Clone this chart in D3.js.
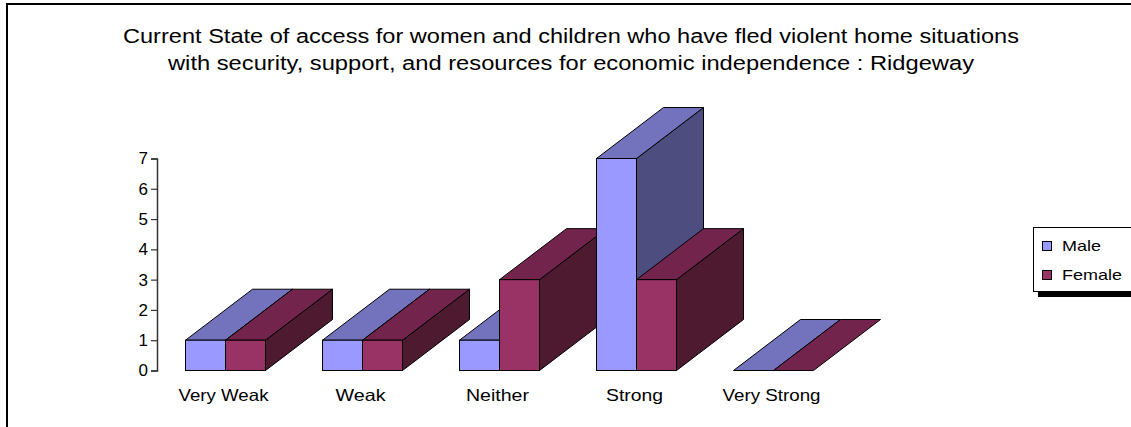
<!DOCTYPE html>
<html><head><meta charset="utf-8">
<script src="https://cdn.jsdelivr.net/npm/d3@7"></script>
<style>body{margin:0;background:#fff}svg{display:block;font-family:Arial,"Liberation Sans",sans-serif}</style>
</head><body>
<script>
const categories = ["Very Weak","Weak","Neither","Strong","Very Strong"];
const seriesNames = ["Male","Female"];
const maleValues = [1,1,1,7,0];
const femaleValues = [1,1,3,3,0];
const yTicks = [0,1,2,3,4,5,6,7];
const titleLines = ["Current State of access for women and children who have fled violent home situations",
  "with security, support, and resources for economic independence : Ridgeway"];

const colors = {
  Male:   {front:"#9999FF", top:"#7373BD", side:"#4D4D80"},
  Female: {front:"#993366", top:"#73244C", side:"#4D1A30"}
};

const W=1131,H=427;
const svg=d3.select("body").append("svg").attr("width",W).attr("height",H);

// frame (right and bottom edges lie outside the picture)
svg.append("rect").attr("x",7).attr("y",4).attr("width",1140).attr("height",440)
  .attr("fill","#fff").attr("stroke","#000").attr("stroke-width",2);

// title
const titleWidths=[896,806];
svg.append("g").selectAll("text").data(titleLines).join("text")
  .attr("x",(d,i)=>571-titleWidths[i]/2).attr("y",(d,i)=>43+i*27)
  .attr("textLength",(d,i)=>titleWidths[i]).attr("lengthAdjust","spacingAndGlyphs")
  .attr("font-size",20).attr("fill","#000").text(d=>d);

const x=d3.scaleBand().domain(categories).range([157,842]);
const xs=d3.scaleBand().domain(seriesNames).range([0,80]);
const y=d3.scaleLinear().domain([0,7]).range([370.5,158.5]);
const DX=67, DY=-51;
const barW=xs.bandwidth();

const data=[];
categories.forEach((c,i)=>{
  data.push({cat:c,s:"Male",v:maleValues[i]});
  data.push({cat:c,s:"Female",v:femaleValues[i]});
});

const g=svg.append("g");
data.forEach(d=>{
  const x0=x(d.cat)+x.bandwidth()/2-40+xs(d.s);
  const x1=x0+barW;
  const yt=y(d.v), yb=y(0);
  const c=colors[d.s];
  const top=[[x0,yt],[x1,yt],[x1+DX,yt+DY],[x0+DX,yt+DY]];
  const side=[[x1,yt],[x1+DX,yt+DY],[x1+DX,yb+DY],[x1,yb]];
  if(d.v>0){
    g.append("polygon").attr("points",side.join(" ")).attr("fill",c.side).attr("stroke","#000").attr("stroke-width",1);
  }
  g.append("polygon").attr("points",top.join(" ")).attr("fill",c.top).attr("stroke","#000").attr("stroke-width",1);
  if(d.v>0){
    g.append("rect").attr("x",x0).attr("y",yt).attr("width",barW).attr("height",yb-yt)
      .attr("fill",c.front).attr("stroke","#000").attr("stroke-width",1);
  }
});

// y axis
const ax=svg.append("g").attr("transform","translate(157,0)")
  .call(d3.axisLeft(y).tickValues(yTicks).tickSize(6).tickPadding(3).tickFormat(d3.format("d")));
ax.select(".domain").attr("stroke","#333").attr("stroke-width",1.5);
ax.selectAll(".tick line").attr("stroke","#333").attr("stroke-width",1.2);
ax.selectAll("text").attr("font-size",17).attr("fill","#000").attr("font-family","Arial,'Liberation Sans',sans-serif");

// category labels
const catWidths=[90,50,63,57,98];
svg.append("g").selectAll("text").data(categories).join("text")
  .attr("x",(d,i)=>x(d)+x.bandwidth()/2-2-catWidths[i]/2).attr("y",401)
  .attr("textLength",(d,i)=>catWidths[i]).attr("lengthAdjust","spacingAndGlyphs")
  .attr("font-size",16.5).attr("fill","#000").text(d=>d);

// legend
const lg=svg.append("g");
lg.append("rect").attr("x",1038).attr("y",240).attr("width",100).attr("height",57).attr("fill","#000");
lg.append("rect").attr("x",1033.5).attr("y",227.5).attr("width",110).attr("height",64).attr("fill","#fff").attr("stroke","#000").attr("stroke-width",1);
const legWidths=[39,60];
seriesNames.forEach((s,i)=>{
  lg.append("rect").attr("x",1042.5).attr("y",241.5+i*29).attr("width",9).attr("height",9)
    .attr("fill",colors[s].front).attr("stroke","#000").attr("stroke-width",1);
  lg.append("text").attr("x",1062).attr("y",251+i*29).attr("font-size",15)
    .attr("textLength",legWidths[i]).attr("lengthAdjust","spacingAndGlyphs").attr("fill","#000").text(s);
});
</script>
</body></html>
